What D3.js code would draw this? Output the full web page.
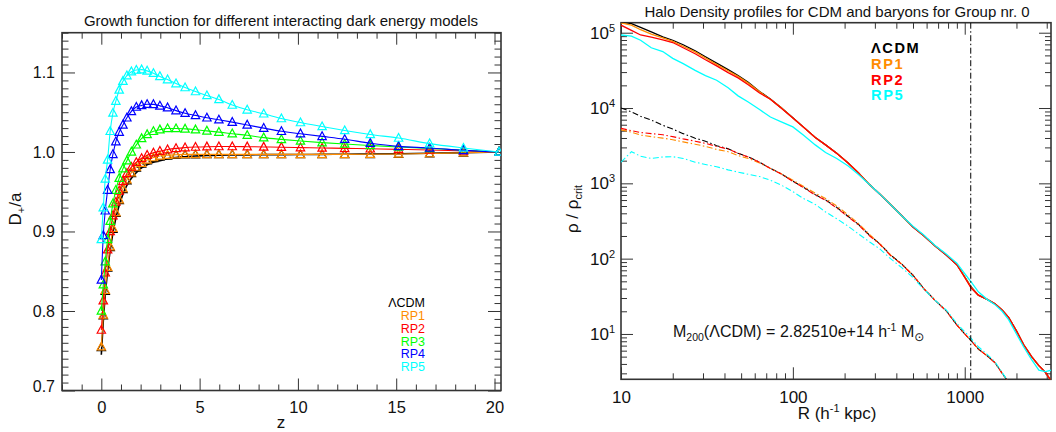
<!DOCTYPE html>
<html>
<head>
<meta charset="utf-8">
<script src="https://cdn.jsdelivr.net/npm/d3@7/dist/d3.min.js"></script>
<style>
html,body{margin:0;padding:0;background:#fff;}
svg text{font-family:"Liberation Sans",Arial,Helvetica,sans-serif;}
</style>
</head>
<body>
<svg id="chart" width="1056" height="432"></svg>
<script>
// ================= LEFT PANEL DATA (growth function) =================
const redshift = [0.0, 0.1, 0.2, 0.32, 0.45, 0.59, 0.74, 0.91, 1.1, 1.3, 1.53, 1.78, 2.05, 2.33, 2.65, 2.98, 3.37, 3.8, 4.26, 4.79, 5.37, 5.98, 6.66, 7.42, 8.26, 9.16, 10.13, 11.23, 12.38, 13.68, 15.12, 16.7, 18.42, 20.23];
const growthLCDMLine = [0.745, 0.787, 0.820, 0.850, 0.876, 0.898, 0.917, 0.933, 0.947, 0.958, 0.967, 0.974, 0.980, 0.984, 0.987, 0.989, 0.9915, 0.993, 0.994, 0.995, 0.9955, 0.996, 0.9962, 0.9964, 0.9966, 0.9967, 0.9968, 0.997, 0.9972, 0.9975, 0.9978, 0.9983, 0.999, 1.0];
const growthLCDM = [0.754, 0.794, 0.825, 0.854, 0.880, 0.903, 0.923, 0.939, 0.953, 0.964, 0.973, 0.980, 0.985, 0.989, 0.992, 0.994, 0.995, 0.996, 0.9965, 0.9967, 0.9968, 0.9968, 0.9968, 0.9968, 0.9968, 0.9968, 0.9968, 0.9968, 0.9969, 0.997, 0.9973, 0.9978, 0.9987, 1.0];
const growthRP1 = [0.755, 0.795, 0.826, 0.855, 0.881, 0.904, 0.924, 0.940, 0.954, 0.965, 0.974, 0.981, 0.986, 0.990, 0.993, 0.995, 0.996, 0.9965, 0.997, 0.997, 0.997, 0.997, 0.997, 0.997, 0.997, 0.997, 0.997, 0.997, 0.997, 0.9972, 0.9975, 0.998, 0.999, 1.0];
const growthRP2 = [0.776, 0.813, 0.848, 0.877, 0.900, 0.920, 0.937, 0.951, 0.963, 0.973, 0.981, 0.987, 0.992, 0.996, 0.999, 1.001, 1.003, 1.0045, 1.0055, 1.0062, 1.0066, 1.0068, 1.0068, 1.0066, 1.0063, 1.006, 1.0055, 1.005, 1.0045, 1.004, 1.0033, 1.0025, 1.0013, 1.0];
const growthRP3 = [0.800, 0.833, 0.862, 0.890, 0.913, 0.935, 0.952, 0.967, 0.979, 0.989, 1.000, 1.009, 1.017, 1.022, 1.026, 1.028, 1.0295, 1.0295, 1.029, 1.028, 1.0265, 1.025, 1.023, 1.021, 1.018, 1.0158, 1.0138, 1.0118, 1.0100, 1.0082, 1.0063, 1.0045, 1.0022, 1.0];
const growthRP4 = [0.839, 0.895, 0.926, 0.952, 0.978, 0.997, 1.013, 1.025, 1.034, 1.043, 1.051, 1.0565, 1.0585, 1.060, 1.0598, 1.058, 1.0557, 1.052, 1.0487, 1.046, 1.043, 1.0405, 1.0375, 1.034, 1.030, 1.026, 1.023, 1.0196, 1.016, 1.011, 1.007, 1.005, 1.002, 1.0];
const growthRP5 = [0.890, 0.930, 0.966, 0.990, 1.026, 1.049, 1.064, 1.078, 1.089, 1.096, 1.101, 1.103, 1.1035, 1.102, 1.099, 1.095, 1.091, 1.086, 1.081, 1.076, 1.071, 1.066, 1.059, 1.053, 1.048, 1.042, 1.037, 1.032, 1.027, 1.022, 1.0175, 1.0105, 1.005, 1.0];
const growthModels = ["ΛCDM", "RP1", "RP2", "RP3", "RP4", "RP5"];
const zTickMajor = [0, 5, 10, 15, 20];
const zTickMinor = [-2, -1, 1, 2, 3, 4, 6, 7, 8, 9, 11, 12, 13, 14, 16, 17, 18, 19];
const dTickMajor = [0.7, 0.8, 0.9, 1.0, 1.1];

// ================= RIGHT PANEL DATA (density profiles) =================
const radius = [10, 11.5, 13, 15, 17.5, 20, 23, 27, 31, 36, 42, 48, 55, 64, 74, 85, 100, 115, 135, 155, 180, 210, 240, 280, 320, 370, 430, 500, 580, 670, 780, 900, 1000, 1090, 1200, 1350, 1500, 1650, 1800, 2000, 2200, 2450, 2700, 2950, 3200];
const rhoCdmLCDM = [1.38e5, 1.318e5, 1.175e5, 1.023e5, 8.81e4, 7.94e4, 6.92e4, 5.75e4, 4.79e4, 3.94e4, 3.24e4, 2.69e4, 2.19e4, 1.66e4, 1.32e4, 1.02e4, 7410, 5620, 4070, 3240, 2510, 1860, 1380, 955, 724, 525, 372, 263, 200, 148, 112, 83.2, 57.5, 42.0, 32.7, 28.8, 25.1, 20.9, 16.6, 11.0, 7.24, 5.01, 3.80, 3.09, 2.34];
const rhoCdmRP1 = [1.349e5, 1.259e5, 1.096e5, 9.55e4, 8.51e4, 7.67e4, 6.61e4, 5.56e4, 4.62e4, 3.80e4, 3.13e4, 2.63e4, 2.14e4, 1.64e4, 1.31e4, 1.02e4, 7380, 5600, 4060, 3230, 2510, 1860, 1390, 960, 724, 528, 372, 265, 200, 148, 113, 83.2, 57.0, 41.5, 32.7, 28.8, 25.1, 20.9, 16.6, 11.0, 7.24, 5.01, 3.80, 3.09, 2.34];
const rhoCdmRP2 = [1.259e5, 1.072e5, 9.33e4, 8.71e4, 8.04e4, 7.41e4, 6.31e4, 5.25e4, 4.37e4, 3.63e4, 2.95e4, 2.51e4, 2.04e4, 1.58e4, 1.31e4, 1.01e4, 7350, 5600, 4070, 3240, 2500, 1850, 1380, 955, 720, 525, 375, 263, 200, 148, 112, 83.2, 56.2, 40.7, 32.7, 28.8, 25.1, 20.9, 16.6, 11.0, 7.24, 5.01, 3.80, 3.09, 2.34];
const rhoCdmRP5 = [9.33e4, 9.02e4, 7.94e4, 6.31e4, 5.62e4, 4.57e4, 3.89e4, 3.16e4, 2.69e4, 2.34e4, 1.86e4, 1.45e4, 1.20e4, 9550, 7590, 6610, 5620, 4370, 3240, 2570, 2140, 1700, 1320, 955, 724, 525, 372, 269, 204, 151, 115, 87.1, 63.1, 49.0, 36.3, 28.8, 24.5, 20.0, 15.5, 10.0, 6.76, 4.57, 3.31, 3.16, 3.31];
const rhoBarLCDM = [1.0e4, 8910, 7760, 6920, 5890, 5250, 4570, 3980, 3630, 3160, 2880, 2510, 2240, 1910, 1580, 1350, 1070, 891, 708, 603, 479, 363, 288, 204, 158, 112, 85.1, 60.3, 39.8, 28.2, 20.4, 13.2, 10.0, 8.13, 6.31, 5.13, 4.17, 3.02, 2.29];
const rhoBarRP1 = [5130, 4790, 4370, 4170, 3980, 3800, 3550, 3310, 3090, 2820, 2630, 2340, 2140, 1860, 1580, 1350, 1100, 912, 741, 631, 501, 380, 295, 209, 158, 112, 85.1, 60.3, 39.8, 28.2, 20.4, 13.2, 10.0, 8.13, 6.31, 5.13, 4.17, 3.02, 2.29];
const rhoBarRP2 = [5370, 5010, 4730, 4570, 4420, 4170, 3890, 3630, 3390, 3090, 2850, 2510, 2240, 1910, 1570, 1340, 1060, 880, 700, 595, 470, 358, 282, 200, 156, 110, 84.0, 60.0, 39.5, 28.0, 20.2, 13.1, 10.0, 8.1, 6.3, 5.1, 4.15, 3.0, 2.28];
const rhoBarRP5 = [1910, 2630, 2290, 2140, 2240, 2260, 2140, 1910, 1780, 1660, 1510, 1410, 1320, 1230, 1100, 955, 776, 631, 525, 417, 339, 269, 214, 166, 135, 100, 75.9, 56.2, 38.9, 28.2, 20.9, 13.8, 10.7, 8.71, 6.76, 5.37, 4.27, 3.09, 2.29];
const profileModels = ["ΛCDM", "RP1", "RP2", "RP5"];
const r200 = 1084;
const rTickMajor = [10, 100, 1000];
const rTickMinor = [20, 30, 40, 50, 60, 70, 80, 90, 200, 300, 400, 500, 600, 700, 800, 900, 2000, 3000];
const rhoTickMajor = [10, 100, 1000, 10000, 100000];
const rhoTickExp = ["1", "2", "3", "4", "5"];
const rhoTickMinor = [3, 4, 5, 6, 7, 8, 9, 20, 30, 40, 50, 60, 70, 80, 90, 200, 300, 400, 500, 600, 700, 800, 900, 2000, 3000, 4000, 5000, 6000, 7000, 8000, 9000, 20000, 30000, 40000, 50000, 60000, 70000, 80000, 90000];

// ================= DRAWING =================
const svg = d3.select("#chart");
const FRAME = "#333";
const TXT = "#111";

function styleAxis(g) {
  g.select(".domain").remove();
  g.selectAll(".tick line").attr("stroke", FRAME).attr("stroke-width", 1);
  g.attr("font-family", null);
}

// ---------- LEFT ----------
const LB = {l: 62, r: 501, t: 32.7, b: 390.5};
const xL = d3.scaleLinear().domain([-2, 20.33]).range([LB.l, LB.r]);
const yL = d3.scaleLinear().domain([0.70, 1.15]).range([LB.b, LB.t]);
const dTickMinor = d3.range(70, 116).map(v => v / 100).filter(v => !dTickMajor.some(m => Math.abs(m - v) < 1e-9));

const gL = svg.append("g");
gL.append("g").attr("transform", `translate(0,${LB.b})`).call(d3.axisBottom(xL).tickValues(zTickMinor).tickSize(-6).tickFormat("")).call(styleAxis);
gL.append("g").attr("transform", `translate(0,${LB.t})`).call(d3.axisTop(xL).tickValues(zTickMinor).tickSize(-6).tickFormat("")).call(styleAxis);
gL.append("g").attr("transform", `translate(${LB.l},0)`).call(d3.axisLeft(yL).tickValues(dTickMinor).tickSize(-6.5).tickFormat("")).call(styleAxis);
gL.append("g").attr("transform", `translate(${LB.r},0)`).call(d3.axisRight(yL).tickValues(dTickMinor).tickSize(-6.5).tickFormat("")).call(styleAxis);
const bxL = gL.append("g").attr("transform", `translate(0,${LB.b})`).call(d3.axisBottom(xL).tickValues(zTickMajor).tickSize(-12).tickPadding(11).tickFormat(d3.format("d"))).call(styleAxis);
bxL.selectAll("text").attr("font-size", 16.5).attr("fill", TXT);
gL.append("g").attr("transform", `translate(0,${LB.t})`).call(d3.axisTop(xL).tickValues(zTickMajor).tickSize(-12).tickFormat("")).call(styleAxis);
const lyL = gL.append("g").attr("transform", `translate(${LB.l},0)`).call(d3.axisLeft(yL).tickValues(dTickMajor).tickSize(-13).tickPadding(7).tickFormat(d3.format(".1f"))).call(styleAxis);
lyL.selectAll("text").attr("font-size", 16).attr("fill", TXT).filter(d => d === 0.7).attr("y", -4);
gL.append("g").attr("transform", `translate(${LB.r},0)`).call(d3.axisRight(yL).tickValues(dTickMajor).tickSize(-13).tickFormat("")).call(styleAxis);

gL.append("rect").attr("x", LB.l).attr("y", LB.t).attr("width", LB.r - LB.l).attr("height", LB.b - LB.t)
  .attr("fill", "none").attr("stroke", FRAME).attr("stroke-width", 1.6);

svg.append("clipPath").attr("id", "clipL").append("rect").attr("x", LB.l).attr("y", LB.t).attr("width", LB.r - LB.l).attr("height", LB.b - LB.t);
const plotL = gL.append("g").attr("clip-path", "url(#clipL)");

const colorsL = ["#000000", "#ff8c00", "#ff0000", "#00ff00", "#0000ff", "#00ffff"];
const seriesL = [growthLCDM, growthRP1, growthRP2, growthRP3, growthRP4, growthRP5];
const lineL = d3.line().x(d => xL(d[0])).y(d => yL(d[1])).curve(d3.curveMonotoneX);
const tri = (x, y) => `M${x - 4.2},${y + 3.2}L${x},${y - 4.6}L${x + 4.2},${y + 3.2}Z`;

seriesL.forEach((vals, i) => {
  const lineVals = i === 0 ? growthLCDMLine : vals;
  plotL.append("path").attr("d", lineL(d3.zip(redshift, lineVals))).attr("fill", "none").attr("stroke", colorsL[i]).attr("stroke-width", i === 0 ? 1.6 : 1.1);
  plotL.append("g").selectAll("path").data(d3.zip(redshift, vals)).join("path")
    .attr("d", d => tri(xL(d[0]), yL(d[1])))
    .attr("fill", "none").attr("stroke", colorsL[i]).attr("stroke-width", 1.2);
});

gL.append("g").selectAll("text").data(growthModels).join("text")
  .attr("x", 425).attr("y", (d, i) => 307.3 + i * 12.75)
  .attr("text-anchor", "end").attr("font-size", 12.5)
  .attr("fill", (d, i) => colorsL[i]).text(d => d);

svg.append("text").attr("x", 281).attr("y", 26).attr("text-anchor", "middle").attr("font-size", 15).attr("fill", TXT)
  .text("Growth function for different interacting dark energy models");
svg.append("text").attr("x", 281).attr("y", 428).attr("text-anchor", "middle").attr("font-size", 17).attr("fill", TXT).text("z");
const dl = svg.append("text").attr("transform", "translate(21,209) rotate(-90)").attr("text-anchor", "middle").attr("font-size", 17).attr("fill", TXT);
dl.append("tspan").text("D");
dl.append("tspan").attr("font-size", 11).attr("dy", 4).text("+");
dl.append("tspan").attr("dy", -4).text("/a");

// ---------- RIGHT ----------
const RB = {l: 621, r: 1051, t: 22.7, b: 379.3};
const xR = d3.scaleLog().domain([10, 3177]).range([RB.l, RB.r]);
const yR = d3.scaleLog().domain([2.5, 1.358e5]).range([RB.b, RB.t]);
const gR = svg.append("g");

gR.append("g").attr("transform", `translate(0,${RB.b})`).call(d3.axisBottom(xR).tickValues(rTickMinor).tickSize(-6).tickFormat("")).call(styleAxis);
gR.append("g").attr("transform", `translate(0,${RB.t})`).call(d3.axisTop(xR).tickValues(rTickMinor).tickSize(-6).tickFormat("")).call(styleAxis);
gR.append("g").attr("transform", `translate(${RB.l},0)`).call(d3.axisLeft(yR).tickValues(rhoTickMinor).tickSize(-6).tickFormat("")).call(styleAxis);
gR.append("g").attr("transform", `translate(${RB.r},0)`).call(d3.axisRight(yR).tickValues(rhoTickMinor).tickSize(-6).tickFormat("")).call(styleAxis);
const bxR = gR.append("g").attr("transform", `translate(0,${RB.b})`).call(d3.axisBottom(xR).tickValues(rTickMajor).tickSize(-12).tickPadding(12).tickFormat(d3.format("d"))).call(styleAxis);
bxR.selectAll("text").attr("font-size", 17).attr("fill", TXT);
gR.append("g").attr("transform", `translate(0,${RB.t})`).call(d3.axisTop(xR).tickValues(rTickMajor).tickSize(-12).tickFormat("")).call(styleAxis);
gR.append("g").attr("transform", `translate(${RB.l},0)`).call(d3.axisLeft(yR).tickValues(rhoTickMajor).tickSize(-12).tickFormat("")).call(styleAxis);
gR.append("g").attr("transform", `translate(${RB.r},0)`).call(d3.axisRight(yR).tickValues(rhoTickMajor).tickSize(-12).tickFormat("")).call(styleAxis);

const ylab = gR.append("g").selectAll("text").data(rhoTickMajor).join("text")
  .attr("x", 615).attr("y", d => yR(d) + 6).attr("text-anchor", "end").attr("font-size", 17).attr("fill", TXT);
ylab.append("tspan").text("10");
ylab.append("tspan").attr("font-size", 11).attr("dy", -7).text((d, i) => rhoTickExp[i]);

gR.append("rect").attr("x", RB.l).attr("y", RB.t).attr("width", RB.r - RB.l).attr("height", RB.b - RB.t)
  .attr("fill", "none").attr("stroke", FRAME).attr("stroke-width", 1.6);

svg.append("clipPath").attr("id", "clipR").append("rect").attr("x", RB.l).attr("y", RB.t).attr("width", RB.r - RB.l).attr("height", RB.b - RB.t);
const plotR = gR.append("g").attr("clip-path", "url(#clipR)");

const colorsR = ["#000000", "#ff8c00", "#ff0000", "#00ffff"];
const lineR = d3.line().x(d => xR(d[0])).y(d => yR(d[1]));
const cdm = [rhoCdmLCDM, rhoCdmRP1, rhoCdmRP2, rhoCdmRP5];
const bar = [rhoBarLCDM, rhoBarRP1, rhoBarRP2, rhoBarRP5];

bar.forEach((vals, i) => {
  plotR.append("path").attr("d", lineR(d3.zip(radius.slice(0, vals.length), vals)))
    .attr("fill", "none").attr("stroke", colorsR[i]).attr("stroke-width", 1.1).attr("stroke-dasharray", "6,2.5,1.5,2.5");
});
cdm.forEach((vals, i) => {
  plotR.append("path").attr("d", lineR(d3.zip(radius, vals)))
    .attr("fill", "none").attr("stroke", colorsR[i]).attr("stroke-width", 1.3);
});
plotR.append("line").attr("x1", xR(r200)).attr("x2", xR(r200)).attr("y1", RB.t).attr("y2", RB.b)
  .attr("stroke", "#000").attr("stroke-width", 1).attr("stroke-dasharray", "6,2.5,1.5,2.5");

gR.append("g").selectAll("text").data(profileModels).join("text")
  .attr("x", 871).attr("y", (d, i) => 53.3 + i * 15.7)
  .attr("font-size", 14.6).attr("font-weight", "bold").attr("letter-spacing", 1.6)
  .attr("fill", (d, i) => colorsR[i]).text(d => d);

const ann = svg.append("text").attr("x", 673).attr("y", 337).attr("font-size", 16).attr("fill", TXT);
ann.append("tspan").text("M");
ann.append("tspan").attr("font-size", 10.5).attr("dy", 4).text("200");
ann.append("tspan").attr("dy", -4).text("(ΛCDM) = 2.82510e+14 h");
ann.append("tspan").attr("font-size", 10.5).attr("dy", -6).text("-1");
ann.append("tspan").attr("dy", 6).text(" M");
ann.append("tspan").attr("font-size", 12).attr("dy", 4).attr("font-family", "DejaVu Sans").text("⊙");

svg.append("text").attr("x", 837).attr("y", 16.5).attr("text-anchor", "middle").attr("font-size", 15).attr("fill", TXT)
  .text("Halo Density profiles for CDM and baryons for Group nr. 0");
const xl = svg.append("text").attr("x", 837).attr("y", 419).attr("text-anchor", "middle").attr("font-size", 17).attr("fill", TXT);
xl.append("tspan").text("R (h");
xl.append("tspan").attr("font-size", 11).attr("dy", -7).text("-1");
xl.append("tspan").attr("dy", 7).text(" kpc)");
const rl = svg.append("text").attr("transform", "translate(578,209) rotate(-90)").attr("text-anchor", "middle").attr("font-size", 17).attr("fill", TXT);
rl.append("tspan").text("ρ / ρ");
rl.append("tspan").attr("font-size", 11).attr("dy", 4).text("crit");
</script>
</body>
</html>
